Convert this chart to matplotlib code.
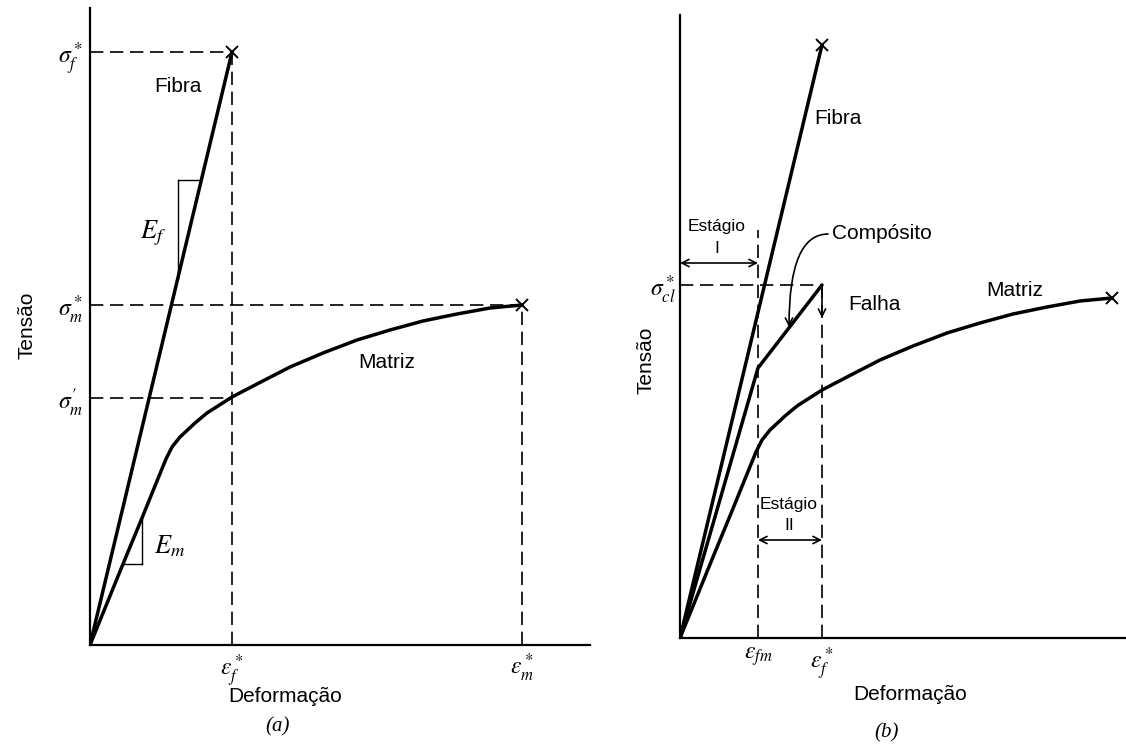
import matplotlib
matplotlib.use('Agg')
import matplotlib.pyplot as plt

plt.rcParams['mathtext.fontset'] = 'stix'
plt.rcParams['font.family'] = ['Liberation Sans', 'DejaVu Sans']

# ---------------- data (strain / stress, arbitrary units) ----------------
fiber_strain = [0.0, 1.42]
fiber_stress = [0.0, 5.93]

matrix_strain = [0.0, 0.33, 0.52, 0.67, 0.76, 0.82, 0.90, 1.05, 1.17, 1.42, 1.67,
                 2.00, 2.33, 2.67, 3.00, 3.33, 3.67, 4.00, 4.32]
matrix_stress = [0.0, 0.81, 1.27, 1.64, 1.86, 1.98, 2.08, 2.22, 2.32, 2.48, 2.61,
                 2.78, 2.92, 3.05, 3.15, 3.24, 3.31, 3.37, 3.40]

composite_strain = [0.0, 0.78, 1.42]
composite_stress = [0.0, 2.70, 3.53]

eps_f = 1.42        # fibre failure strain
eps_m = 4.32        # matrix failure strain
eps_fm = 0.78       # matrix yield strain (b)
sig_f = 5.93        # fibre strength
sig_m = 3.40        # matrix strength
sig_m_prime = 2.47  # matrix stress at eps_f
sig_cl = 3.53       # composite strength

tick_a_x = [r'$\epsilon_f^*$', r'$\epsilon_m^*$']
tick_a_y = [r"$\sigma_m^{\prime}$", r'$\sigma_m^*$', r'$\sigma_f^*$']
tick_b_x = [r'$\epsilon_{fm}$', r'$\epsilon_f^*$']
tick_b_y = [r'$\sigma_{cl}^*$']

# ---------------- figure ----------------
W, H = 1126, 745
fig = plt.figure(figsize=(W / 100, H / 100), dpi=100)


def fx(px):
    return px / W


def fy(py):
    return 1 - py / H


axa = fig.add_axes([fx(90), fy(645), 500 / W, 637 / H])
axa.set_xlim(0, 5.0)
axa.set_ylim(0, 6.37)

axb = fig.add_axes([fx(680), fy(638), 446 / W, 623 / H])
axb.set_xlim(0, 4.46)
axb.set_ylim(0, 6.23)

for ax in (axa, axb):
    ax.spines['top'].set_visible(False)
    ax.spines['right'].set_visible(False)
    for s in ('left', 'bottom'):
        ax.spines[s].set_linewidth(1.6)
        ax.spines[s].set_color('black')
    ax.tick_params(length=0, labelsize=17, pad=5)
    ax.patch.set_alpha(0)

CURVE = dict(color='black', lw=2.5, solid_joinstyle='round', solid_capstyle='round')
DASH = dict(color='black', lw=1.2, dashes=(8, 4))
XMARK = dict(marker='x', ms=9, mew=1.4, color='black', ls='none', clip_on=False)
THIN = dict(color='black', lw=1.0)

# ---------------- panel (a) ----------------
axa.plot([0, eps_f], [sig_f, sig_f], **DASH)
axa.plot([eps_f, eps_f], [0, sig_f], **DASH)
axa.plot([0, eps_m], [sig_m, sig_m], **DASH)
axa.plot([eps_m, eps_m], [0, sig_m], **DASH)
axa.plot([0, eps_f], [sig_m_prime, sig_m_prime], **DASH)

axa.plot(fiber_strain, fiber_stress, **CURVE)
axa.plot(matrix_strain, matrix_stress, **CURVE)
axa.plot([fiber_strain[-1]], [fiber_stress[-1]], **XMARK)
axa.plot([matrix_strain[-1]], [matrix_stress[-1]], **XMARK)

# slope triangles
slope_f = fiber_stress[-1] / fiber_strain[-1]
xe, ye = 0.88, 4.65
axa.plot([xe, ye / slope_f], [ye, ye], **THIN)
axa.plot([xe, xe], [ye, xe * slope_f], **THIN)
axa.plot([matrix_strain[1], matrix_strain[2]], [matrix_stress[1], matrix_stress[1]], **THIN)
axa.plot([matrix_strain[2], matrix_strain[2]], [matrix_stress[1], matrix_stress[2]], **THIN)

axa.text(0.63, 4.12, r'$E_f$', fontsize=19, ha='center', va='center')
axa.text(0.80, 0.99, r'$E_m$', fontsize=19, ha='center', va='center')
axa.text(0.88, 5.58, 'Fibra', fontsize=15, ha='center', va='center')
axa.text(2.97, 2.82, 'Matriz', fontsize=15, ha='center', va='center')

axa.set_xticks([eps_f, eps_m], tick_a_x)
axa.set_yticks([sig_m_prime, sig_m, sig_f], tick_a_y)

# ---------------- panel (b) ----------------
axb.plot([0, eps_f], [sig_cl, sig_cl], **DASH)
axb.plot([eps_f, eps_f], [0, sig_cl], **DASH)
axb.plot([eps_fm, eps_fm], [0, 4.08], **DASH)

axb.plot(fiber_strain, fiber_stress, **CURVE)
axb.plot(matrix_strain, matrix_stress, **CURVE)
axb.plot(composite_strain, composite_stress, **CURVE)
axb.plot([fiber_strain[-1]], [fiber_stress[-1]], **XMARK)
axb.plot([matrix_strain[-1]], [matrix_stress[-1]], **XMARK)

ARW = dict(color='black', lw=1.2, shrinkA=0, shrinkB=0, mutation_scale=13)
axb.annotate('', xy=(0, 3.75), xytext=(eps_fm, 3.75),
             arrowprops=dict(arrowstyle='<->', **ARW))
axb.annotate('', xy=(eps_fm, 0.98), xytext=(eps_f, 0.98),
             arrowprops=dict(arrowstyle='<->', **ARW))
axb.annotate('', xy=(eps_f, 3.20), xytext=(eps_f, sig_cl),
             arrowprops=dict(arrowstyle='->', **ARW))
axb.annotate('', xy=(1.09, 3.11), xytext=(1.48, 4.04),
             arrowprops=dict(arrowstyle='->', connectionstyle='angle3,angleA=180,angleB=90', **ARW))

axb.text(0.37, 4.12, 'Estágio', fontsize=12.5, ha='center', va='center')
axb.text(0.37, 3.90, 'I', fontsize=12.5, ha='center', va='center')
axb.text(1.09, 1.33, 'Estágio', fontsize=12.5, ha='center', va='center')
axb.text(1.09, 1.13, 'II', fontsize=12.5, ha='center', va='center')
axb.text(1.52, 4.05, 'Compósito', fontsize=15, ha='left', va='center')
axb.text(1.68, 3.34, 'Falha', fontsize=15, ha='left', va='center')
axb.text(1.34, 5.20, 'Fibra', fontsize=15, ha='left', va='center')
axb.text(3.35, 3.48, 'Matriz', fontsize=15, ha='center', va='center')

axb.set_xticks([eps_fm, eps_f], tick_b_x)
axb.set_yticks([sig_cl], tick_b_y)
axb.tick_params(axis='y', pad=3)

# ---------------- axis titles ----------------
fig.text(fx(27), fy(325), 'Tensão', rotation=90, fontsize=15, ha='center', va='center')
fig.text(fx(646), fy(360), 'Tensão', rotation=90, fontsize=15, ha='center', va='center')
fig.text(fx(285), fy(697), 'Deformação', fontsize=15, ha='center', va='center')
fig.text(fx(910), fy(695), 'Deformação', fontsize=15, ha='center', va='center')
fig.text(fx(278), fy(727), '(a)', fontsize=15, ha='center', va='center',
         family='Liberation Serif', style='italic')
fig.text(fx(887), fy(733), '(b)', fontsize=15, ha='center', va='center',
         family='Liberation Serif', style='italic')

fig.savefig('out.png', dpi=100)
